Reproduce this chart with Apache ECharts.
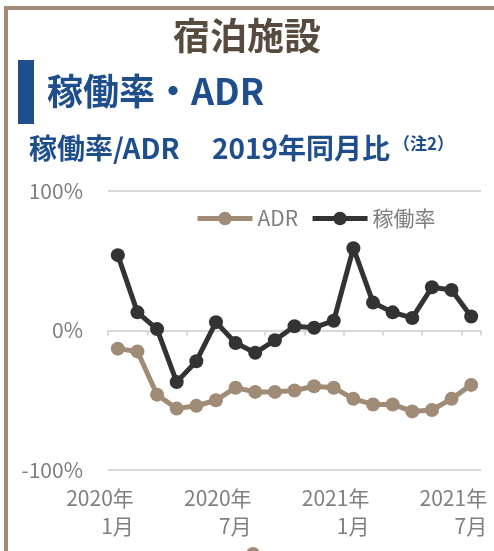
<!DOCTYPE html>
<html>
<head>
<meta charset="utf-8">
<script src="https://cdn.jsdelivr.net/npm/echarts@6/dist/echarts.min.js"></script>
<style>
  html, body { margin: 0; padding: 0; background: #fff; }
  #chart { width: 494px; height: 551px; }
</style>
</head>
<body>
<div id="chart"></div>
<script>
'use strict';

// 2020年1月 〜 2021年7月
var months = [
  '2020年\n1月', '2020年\n2月', '2020年\n3月', '2020年\n4月', '2020年\n5月', '2020年\n6月',
  '2020年\n7月', '2020年\n8月', '2020年\n9月', '2020年\n10月', '2020年\n11月', '2020年\n12月',
  '2021年\n1月', '2021年\n2月', '2021年\n3月', '2021年\n4月', '2021年\n5月', '2021年\n6月',
  '2021年\n7月'
];
// 2019年同月比 (%)
var adr = [-13, -15, -46, -56, -54, -50, -41, -44, -44, -43, -40, -41, -49, -53, -53, -58, -57, -49, -39];
var occupancy = [54, 13, 1, -37, -22, 6, -9, -16, -7, 3, 2, 7, 59, 20, 13, 9, 31, 29, 10];
var yTicks = [-100, 0, 100];

var FONT = '"Noto Sans CJK JP", "Noto Sans", sans-serif';
var GRAY = '#7f7f7f';
var BROWN = '#a08b76';
var DARK = '#333333';
var BLUE = '#1f4e8d';

var myChart = echarts.init(document.getElementById('chart'));

var option = {
  backgroundColor: '#fff',
  animation: false,
  textStyle: { fontFamily: FONT },
  graphic: [
    // 外枠（左・上）
    { type: 'rect', left: 4, top: 6, shape: { width: 4, height: 560 }, style: { fill: BROWN } },
    { type: 'rect', left: 4, top: 6, shape: { width: 500, height: 4 }, style: { fill: BROWN } },
    // 見出しの青いバー
    { type: 'rect', left: 18, top: 60, shape: { width: 16, height: 64 }, style: { fill: BLUE } },
    // 下の切れた丸
    { type: 'circle', shape: { cx: 253, cy: 554, r: 7 }, style: { fill: BROWN } }
  ],
  title: [
    {
      text: '宿泊施設',
      left: 'center',
      top: 12,
      textStyle: { fontSize: 37, fontWeight: 'bold', color: '#574a3e', fontFamily: FONT }
    },
    {
      text: '稼働率・ADR',
      left: 42,
      top: 68,
      textStyle: { fontSize: 36, fontWeight: 'bold', color: BLUE, fontFamily: FONT }
    },
    {
      text: '稼働率/ADR',
      left: 24,
      top: 129,
      textStyle: { fontSize: 28, fontWeight: 'bold', color: BLUE, fontFamily: FONT }
    },
    {
      text: '2019年同月比',
      left: 207,
      top: 129,
      textStyle: { fontSize: 28, fontWeight: 'bold', color: BLUE, fontFamily: FONT }
    },
    {
      text: '（注2）',
      left: 388,
      top: 130,
      textStyle: { fontSize: 17, fontWeight: 'bold', color: BLUE, fontFamily: FONT }
    }
  ],
  legend: {
    data: ['ADR', '稼働率'],
    left: 190,
    top: 203,
    itemWidth: 55,
    itemHeight: 17,
    itemGap: 12,
    lineStyle: { width: 5 },
    textStyle: { fontSize: 21, color: GRAY, fontFamily: FONT }
  },
  grid: {
    left: 108,
    right: 13,
    top: 191,
    bottom: 81,
    outerBoundsMode: 'none'
  },
  xAxis: [
    {
      type: 'category',
      data: months,
      position: 'bottom',
      axisLine: { show: false, onZero: false },
      axisTick: { show: false },
      axisLabel: {
        interval: 5,
        margin: 14,
        color: GRAY,
        fontSize: 21,
        lineHeight: 28,
        fontFamily: FONT,
        align: 'center',
        padding: [0, 34, 0, 0],
        formatter: function (v) {
          return v.split('\n').map(function (s) { return '{a|' + s + '}'; }).join('\n');
        },
        rich: {
          a: { width: 66, align: 'right', fontSize: 21, lineHeight: 28, color: GRAY, fontFamily: FONT }
        }
      }
    },
    {
      type: 'category',
      data: months,
      position: 'bottom',
      axisLine: { show: true, onZero: true, lineStyle: { color: '#d9d9d9', width: 2 } },
      axisTick: { show: true, interval: 1, length: 5, lineStyle: { color: '#d9d9d9', width: 2 } },
      axisLabel: { show: false }
    }
  ],
  yAxis: {
    type: 'value',
    min: yTicks[0],
    max: yTicks[yTicks.length - 1],
    interval: 100,
    axisLine: { show: false },
    axisTick: { show: false },
    axisLabel: {
      margin: 25,
      color: GRAY,
      fontSize: 21,
      fontFamily: FONT,
      formatter: '{value}%'
    },
    splitLine: { lineStyle: { color: '#d9d9d9', width: 2 } }
  },
  series: [
    {
      name: 'ADR',
      type: 'line',
      data: adr,
      symbol: 'circle',
      symbolSize: 14,
      showAllSymbol: true,
      lineStyle: { width: 5, color: BROWN },
      itemStyle: { color: BROWN }
    },
    {
      name: '稼働率',
      type: 'line',
      data: occupancy,
      symbol: 'circle',
      symbolSize: 14,
      showAllSymbol: true,
      lineStyle: { width: 5, color: DARK },
      itemStyle: { color: DARK }
    }
  ]
};

myChart.setOption(option);
</script>
</body>
</html>
